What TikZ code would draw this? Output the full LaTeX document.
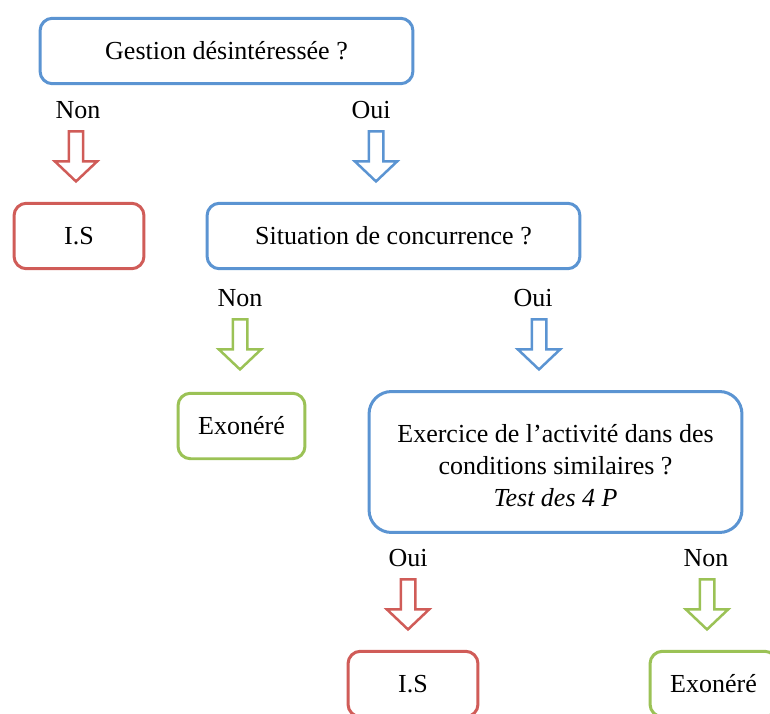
\documentclass[tikz,border=0pt]{standalone}
\usepackage{fontspec}
\setmainfont{Liberation Serif}
\usetikzlibrary{shapes.arrows}

\definecolor{bleu}{RGB}{91,148,210}
\definecolor{rouge}{RGB}{208,92,88}
\definecolor{vert}{RGB}{155,194,86}

\begin{document}
\begin{tikzpicture}[x=0.02cm, y=-0.02cm]

	\tikzstyle{boite}=[rectangle, rounded corners=0.25cm, line width=0.06cm, minimum height=1.31cm, align=center, font=\fontsize{14.8}{18.2}\selectfont]
	\tikzstyle{question}=[boite, draw=bleu, minimum width=7.46cm]
	\tikzstyle{is}=[boite, draw=rouge, minimum width=2.6cm]
	\tikzstyle{exo}=[boite, draw=vert, minimum width=2.54cm]
	\tikzstyle{rep}=[font=\fontsize{14.8}{18.2}\selectfont]
	\tikzstyle{fleche}=[single arrow, draw, line width=0.05cm, rotate=-90, minimum height=1.0cm, single arrow head extend=0.28cm, single arrow tip angle=93, inner xsep=0pt, inner ysep=0.12cm]

	\useasboundingbox (0,0) rectangle (770,713);
	\clip (0,0) rectangle (770,713);

	\coordinate (q_1) at (226.5,51); % NIVEAU 1
	\coordinate (n_1) at (78,110);
	\coordinate (o_1) at (371,110);
	\coordinate (a_1_1) at (76,153);
	\coordinate (a_1_2) at (376,153);
	\coordinate (r_1) at (79,236); % NIVEAU 2
	\coordinate (q_2) at (393.5,236);
	\coordinate (n_2) at (240,298);
	\coordinate (o_2) at (533,298);
	\coordinate (a_2_1) at (240,341);
	\coordinate (a_2_2) at (539,341);
	\coordinate (e_1) at (241.5,426); % NIVEAU 3
	\coordinate (q_3) at (555.5,462);
	\coordinate (o_3) at (408,558);
	\coordinate (n_3) at (706,558);
	\coordinate (a_3_1) at (408,601);
	\coordinate (a_3_2) at (707,601);
	\coordinate (r_2) at (413,684); % NIVEAU 4
	\coordinate (e_2) at (713.5,684);

	\node[question] (q_1) at (q_1) {Gestion désintéressée ?};
	\node[rep] (n_1) at (n_1) {Non};
	\node[rep] (o_1) at (o_1) {Oui};
	\node[fleche, draw=rouge] (a_1_1) at (a_1_1) {};
	\node[fleche, draw=bleu] (a_1_2) at (a_1_2) {};

	\node[is] (r_1) at (r_1) {I.S};
	\node[question] (q_2) at (q_2) {Situation de concurrence ?};
	\node[rep] (n_2) at (n_2) {Non};
	\node[rep] (o_2) at (o_2) {Oui};
	\node[fleche, draw=vert] (a_2_1) at (a_2_1) {};
	\node[fleche, draw=bleu] (a_2_2) at (a_2_2) {};

	\node[exo] (e_1) at (e_1) {Exonéré};
	\node[question, minimum height=2.82cm, rounded corners=0.45cm, text height=51pt, text depth=0pt] (q_3) at (q_3) {Exercice de l’activité dans des\\conditions similaires ?\\\textit{Test des 4 P}};
	\node[rep] (o_3) at (o_3) {Oui};
	\node[rep] (n_3) at (n_3) {Non};
	\node[fleche, draw=rouge] (a_3_1) at (a_3_1) {};
	\node[fleche, draw=vert] (a_3_2) at (a_3_2) {};

	\node[is] (r_2) at (r_2) {I.S};
	\node[exo] (e_2) at (e_2) {Exonéré};
\end{tikzpicture}
\end{document}
